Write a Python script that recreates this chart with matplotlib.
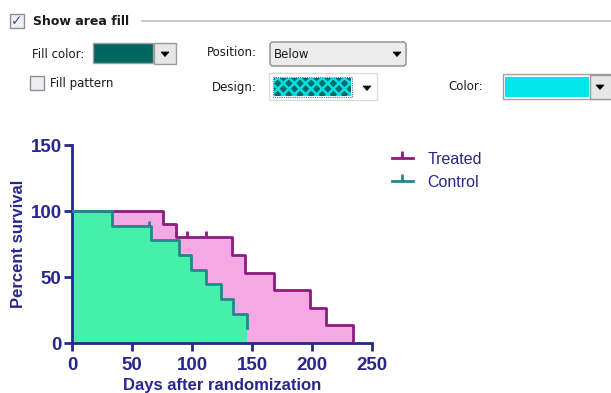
import matplotlib.pyplot as plt
from matplotlib.patches import Rectangle, FancyBboxPatch, Polygon
from matplotlib.lines import Line2D

# survival data (step curves, value holds from time[i] to time[i+1])
treated_days = [0, 76, 87, 133, 144, 168, 198, 212, 234]
treated_surv = [100, 90, 80, 66.7, 53.3, 40, 26.7, 13.3, 0]
treated_censor_days = [96, 112]
treated_censor_surv = [80, 80]

control_days = [0, 33, 66, 89, 99, 112, 124, 134, 146]
control_surv = [100, 88.9, 77.8, 66.7, 55.6, 44.4, 33.3, 22.2, 11.1]
control_censor_days = [64]
control_censor_surv = [88.9]

x_ticks = [0, 50, 100, 150, 200, 250]
y_ticks = [0, 50, 100, 150]

navy = "#27278c"
purple = "#8c1a80"
teal = "#22888c"
pink_fill = "#f4a8e4"
green_fill = "#44f0aa"

plt.rcParams['font.family'] = ['Liberation Sans', 'DejaVu Sans']
plt.rcParams['hatch.linewidth'] = 1.8

fig = plt.figure(figsize=(6.11, 3.93), dpi=100)
fig.patch.set_facecolor("white")

# ---- dialog widgets drawn in pixel coordinates ----
ui = fig.add_axes([0, 0, 1, 1])
ui.set_xlim(0, 611)
ui.set_ylim(393, 0)
ui.axis("off")

ui_font = ['DejaVu Sans']
def label(x, y, s, **kw):
    ui.text(x, y, s, va="center", family=ui_font, fontsize=8.5, color="#1a1a1a", **kw)

def arrow(x, y):
    ui.add_patch(Polygon([[x - 4, y - 2], [x + 4, y - 2], [x, y + 2.5]], closed=True,
                         facecolor="black", edgecolor="black", lw=0.5))

# "Show area fill" header
ui.add_patch(Rectangle((10, 14), 14, 14, facecolor="#eef0f4", edgecolor="#8f8f8f", lw=1))
ui.text(17, 21.5, "\u2713", ha="center", va="center", color="#3a4fa8", fontsize=10,
        fontweight="bold", family=ui_font)
ui.text(33, 21.5, "Show area fill", va="center", family=ui_font, fontsize=9,
        fontweight="bold", color="#1a1a1a")
ui.plot([142, 611], [21, 21], color="#c4c4c4", lw=1.3)

# Fill color
label(32, 55, "Fill color:")
ui.add_patch(Rectangle((93, 43), 60, 20, facecolor="#00665f", edgecolor="#a0a0a0", lw=1))
ui.add_patch(Rectangle((154, 43), 22, 21, facecolor="#e6e6e6", edgecolor="#9a9a9a", lw=1))
arrow(165, 54)

# Fill pattern
ui.add_patch(Rectangle((30, 76), 14, 14, facecolor="#eceef2", edgecolor="#8f8f8f", lw=1))
label(50, 83, "Fill pattern")

# Position
label(207, 53, "Position:")
ui.add_patch(FancyBboxPatch((270, 42), 136, 24, boxstyle="round,pad=0,rounding_size=3",
                            facecolor="#ececec", edgecolor="#8a8a8a", lw=1))
label(274, 55, "Below")
arrow(397, 54)

# Design
label(212, 87, "Design:")
ui.add_patch(Rectangle((269, 73), 108, 27, facecolor="white", edgecolor="#d6dde6", lw=1))
ui.add_patch(Rectangle((274, 78), 77, 18, facecolor="#006c66", edgecolor="#00e0e6",
                       hatch="xxx", lw=0))
ui.add_patch(Rectangle((273, 77), 79, 20, facecolor="none", edgecolor="#3c6fd0",
                       lw=0.8, ls=(0, (1, 1))))
arrow(367, 88)

# Color
label(448, 86, "Color:")
ui.add_patch(Rectangle((503, 74), 110, 25, facecolor="white", edgecolor="#a0a0a0", lw=1))
ui.add_patch(Rectangle((505, 77), 84, 20, facecolor="#00e6ea", edgecolor="none"))
ui.add_patch(Rectangle((590, 75), 22, 24, facecolor="#e6e6e6", edgecolor="#9a9a9a", lw=1))
arrow(600, 87)

# ---- survival chart ----
ax = fig.add_axes([72 / 611, 50 / 393, 300 / 611, 198 / 393])
ax.set_facecolor("none")

ax.fill_between(treated_days, treated_surv, 0, step="post", color=pink_fill, lw=0, zorder=1)
ax.fill_between(control_days, control_surv, 0, step="post", color=green_fill, lw=0, zorder=2)
ax.step(treated_days, treated_surv, where="post", color=purple, lw=2, zorder=3)
ax.step(control_days, control_surv, where="post", color=teal, lw=2, zorder=4)
ax.plot(treated_censor_days, treated_censor_surv, ls="none", marker=2, ms=4, mew=2,
        color=purple, zorder=3)
ax.plot(control_censor_days, control_censor_surv, ls="none", marker=2, ms=3.5, mew=2,
        color=teal, zorder=4)

ax.set_xlim(0, 250)
ax.set_ylim(0, 150)
ax.set_xticks(x_ticks)
ax.set_yticks(y_ticks)
for side in ["top", "right"]:
    ax.spines[side].set_visible(False)
for side in ["left", "bottom"]:
    ax.spines[side].set_color(navy)
    ax.spines[side].set_linewidth(2)
ax.tick_params(colors=navy, width=2, length=6, labelsize=13.5)
ax.tick_params(axis="x", pad=4)
ax.tick_params(axis="y", pad=1.5)
for lab in ax.get_xticklabels() + ax.get_yticklabels():
    lab.set_fontweight("bold")

ax.set_xlabel("Days after randomization", color=navy, fontsize=12, fontweight="bold",
              labelpad=3)
ax.set_ylabel("Percent survival", color=navy, fontsize=12, fontweight="bold", labelpad=3)

handles = [Line2D([], [], color=purple, lw=2, marker=2, ms=5, mew=2),
           Line2D([], [], color=teal, lw=2, marker=2, ms=5, mew=2)]
leg = fig.legend(handles, ["Treated", "Control"], loc="upper left",
                 bbox_to_anchor=(384 / 611, 1 - 144 / 393), frameon=False, fontsize=11.5,
                 handlelength=1.3, handletextpad=0.9, labelspacing=0.5, borderpad=0)
for t in leg.get_texts():
    t.set_color(navy)

fig.savefig("out.png", dpi=100)
